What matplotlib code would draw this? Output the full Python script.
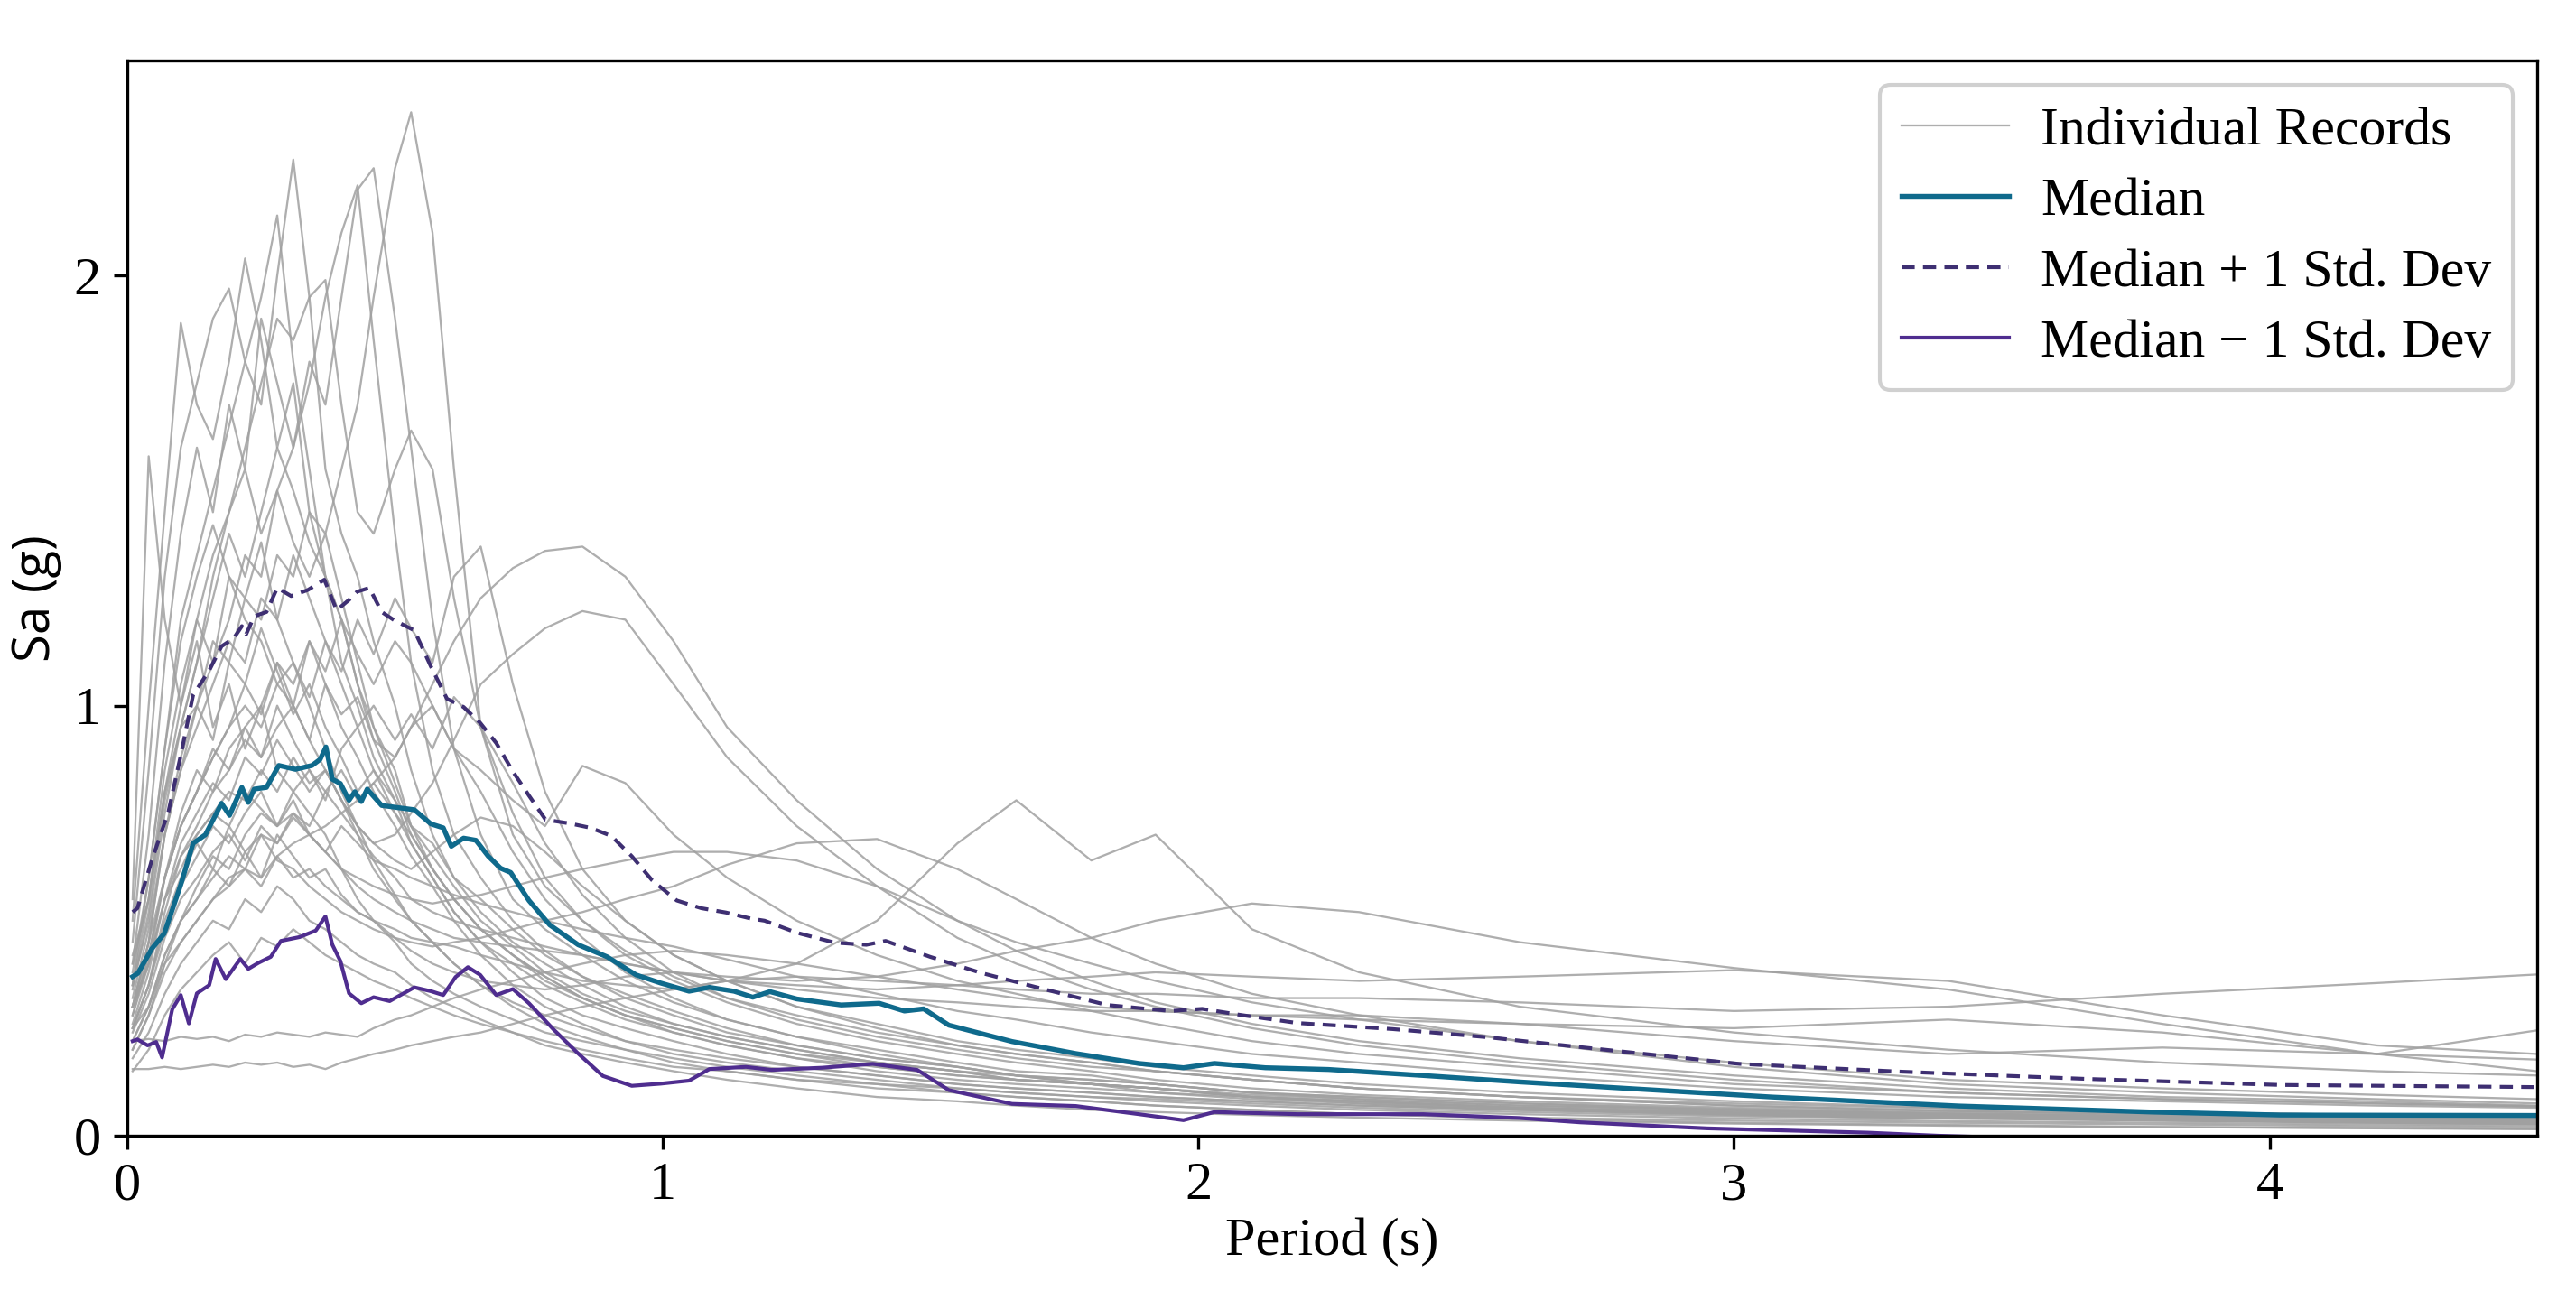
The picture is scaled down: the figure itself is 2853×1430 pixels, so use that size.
import numpy as np
import matplotlib
matplotlib.use("Agg")
import matplotlib.pyplot as plt

plt.rcParams['font.family'] = ['Liberation Serif', 'DejaVu Serif']

# period grid shared by the individual records (s)
periods = [0.01, 0.04, 0.07, 0.10, 0.13, 0.16, 0.19, 0.22, 0.25, 0.28,
           0.31, 0.34, 0.37, 0.40, 0.43, 0.46, 0.50, 0.53, 0.57, 0.61,
           0.66, 0.72, 0.78, 0.85, 0.93, 1.02, 1.12, 1.25, 1.40, 1.55,
           1.66, 1.80, 1.92, 2.1, 2.3, 2.6, 3.0, 3.4, 3.8, 4.2, 4.5]

# spectral accelerations (g) of the individual records
records = [
    [0.42, 0.55, 0.80, 0.95, 1.00, 1.15, 1.10, 1.25, 1.20, 1.35, 1.30, 1.45, 1.40, 1.55, 1.70, 1.95, 2.25, 2.38, 2.10, 1.55,
     0.95, 0.70, 0.58, 0.50, 0.42, 0.36, 0.31, 0.26, 0.22, 0.19, 0.17, 0.15, 0.13, 0.11, 0.095, 0.08, 0.065, 0.055, 0.048, 0.042, 0.038],
    [0.35, 0.60, 0.90, 1.20, 1.35, 1.50, 1.65, 1.80, 1.70, 2.00, 2.27, 1.95, 1.55, 1.40, 1.30, 1.15, 1.00, 0.85, 0.70, 0.60,
     0.52, 0.45, 0.40, 0.35, 0.30, 0.26, 0.23, 0.20, 0.17, 0.15, 0.14, 0.12, 0.11, 0.095, 0.085, 0.07, 0.06, 0.05, 0.045, 0.04, 0.035],
    [0.30, 0.45, 0.70, 0.85, 1.00, 1.10, 1.20, 1.35, 1.30, 1.50, 1.60, 1.80, 1.70, 1.95, 2.20, 2.25, 1.90, 1.60, 1.20, 0.90,
     0.70, 0.55, 0.48, 0.42, 0.36, 0.31, 0.27, 0.23, 0.20, 0.17, 0.15, 0.14, 0.12, 0.10, 0.09, 0.075, 0.062, 0.052, 0.045, 0.04, 0.036],
    [0.40, 0.70, 1.10, 1.40, 1.60, 1.45, 1.70, 1.55, 1.90, 1.75, 1.60, 1.75, 1.95, 2.10, 2.21, 1.85, 1.40, 1.10, 0.85, 0.70,
     0.60, 0.50, 0.43, 0.37, 0.32, 0.28, 0.24, 0.21, 0.18, 0.16, 0.14, 0.13, 0.12, 0.10, 0.085, 0.07, 0.058, 0.05, 0.043, 0.038, 0.034],
    [0.45, 0.85, 1.30, 1.60, 1.75, 1.90, 1.97, 1.80, 1.95, 2.14, 1.80, 1.55, 1.30, 1.20, 1.05, 0.95, 0.85, 0.72, 0.62, 0.55,
     0.48, 0.42, 0.37, 0.32, 0.28, 0.25, 0.22, 0.19, 0.16, 0.14, 0.13, 0.12, 0.11, 0.09, 0.08, 0.065, 0.055, 0.047, 0.041, 0.036, 0.033],
    [0.50, 1.00, 1.45, 1.89, 1.70, 1.62, 1.80, 2.04, 1.85, 1.60, 1.75, 1.45, 1.30, 1.10, 1.00, 0.88, 0.78, 0.68, 0.60, 0.52,
     0.45, 0.40, 0.35, 0.31, 0.27, 0.24, 0.21, 0.18, 0.16, 0.14, 0.13, 0.12, 0.10, 0.09, 0.075, 0.062, 0.052, 0.045, 0.039, 0.035, 0.032],
    [0.55, 1.58, 1.20, 1.00, 1.15, 0.95, 1.05, 0.90, 1.00, 0.85, 0.80, 0.75, 0.70, 0.62, 0.55, 0.50, 0.45, 0.40, 0.36, 0.33,
     0.30, 0.27, 0.24, 0.22, 0.20, 0.18, 0.16, 0.14, 0.12, 0.11, 0.10, 0.09, 0.085, 0.075, 0.065, 0.055, 0.045, 0.04, 0.035, 0.03, 0.028],
    [0.35, 0.50, 0.75, 0.95, 1.10, 1.30, 1.45, 1.60, 1.75, 1.90, 1.85, 1.95, 1.99, 1.70, 1.45, 1.40, 1.55, 1.64, 1.55, 1.25,
     0.95, 0.75, 0.60, 0.50, 0.43, 0.37, 0.32, 0.28, 0.24, 0.21, 0.19, 0.17, 0.15, 0.13, 0.11, 0.09, 0.075, 0.063, 0.055, 0.048, 0.043],
    [0.25, 0.30, 0.40, 0.45, 0.50, 0.55, 0.58, 0.62, 0.60, 0.65, 0.68, 0.70, 0.72, 0.75, 0.78, 0.82, 0.88, 0.95, 1.05, 1.15,
     1.25, 1.32, 1.36, 1.37, 1.30, 1.15, 0.95, 0.78, 0.62, 0.50, 0.43, 0.36, 0.31, 0.26, 0.22, 0.18, 0.14, 0.11, 0.09, 0.08, 0.07],
    [0.30, 0.40, 0.55, 0.65, 0.70, 0.75, 0.80, 0.78, 0.85, 0.80, 0.88, 0.82, 0.85, 0.78, 0.72, 0.68, 0.70, 0.75, 0.82, 0.92,
     1.05, 1.12, 1.18, 1.22, 1.20, 1.05, 0.88, 0.72, 0.58, 0.46, 0.40, 0.34, 0.30, 0.25, 0.21, 0.17, 0.13, 0.10, 0.085, 0.075, 0.068],
    [0.30, 0.45, 0.60, 0.72, 0.80, 0.88, 0.95, 1.05, 0.98, 1.10, 1.00, 1.15, 1.05, 0.98, 1.02, 0.92, 0.88, 0.95, 1.00, 0.90,
     0.85, 0.78, 0.72, 0.86, 0.82, 0.70, 0.60, 0.50, 0.42, 0.36, 0.33, 0.29, 0.26, 0.22, 0.19, 0.16, 0.12, 0.10, 0.085, 0.075, 0.068],
    [0.20, 0.28, 0.38, 0.45, 0.50, 0.55, 0.60, 0.62, 0.58, 0.65, 0.60, 0.62, 0.58, 0.55, 0.52, 0.50, 0.48, 0.46, 0.45, 0.44,
     0.42, 0.40, 0.38, 0.36, 0.35, 0.34, 0.36, 0.40, 0.50, 0.68, 0.78, 0.64, 0.70, 0.48, 0.38, 0.30, 0.24, 0.20, 0.17, 0.15, 0.14],
    [0.22, 0.30, 0.42, 0.50, 0.55, 0.62, 0.58, 0.66, 0.60, 0.70, 0.65, 0.60, 0.62, 0.56, 0.52, 0.50, 0.46, 0.43, 0.40, 0.38,
     0.36, 0.35, 0.34, 0.35, 0.37, 0.38, 0.37, 0.36, 0.37, 0.40, 0.43, 0.46, 0.50, 0.54, 0.52, 0.45, 0.39, 0.34, 0.26, 0.19, 0.15],
    [0.155, 0.155, 0.16, 0.155, 0.16, 0.165, 0.16, 0.17, 0.165, 0.17, 0.16, 0.165, 0.155, 0.17, 0.18, 0.19, 0.20, 0.21, 0.22, 0.23,
     0.24, 0.26, 0.28, 0.30, 0.32, 0.34, 0.36, 0.37, 0.36, 0.35, 0.34, 0.33, 0.33, 0.32, 0.32, 0.31, 0.29, 0.30, 0.33, 0.355, 0.375],
    [0.25, 0.35, 0.48, 0.58, 0.65, 0.72, 0.68, 0.75, 0.80, 0.72, 0.78, 0.70, 0.66, 0.62, 0.58, 0.55, 0.52, 0.50, 0.48, 0.46,
     0.45, 0.44, 0.43, 0.42, 0.40, 0.38, 0.36, 0.35, 0.34, 0.35, 0.36, 0.37, 0.38, 0.37, 0.36, 0.37, 0.385, 0.36, 0.28, 0.21, 0.19],
    [0.22, 0.225, 0.22, 0.23, 0.225, 0.23, 0.22, 0.235, 0.23, 0.24, 0.235, 0.23, 0.24, 0.235, 0.23, 0.25, 0.27, 0.28, 0.30, 0.32,
     0.34, 0.36, 0.38, 0.40, 0.42, 0.43, 0.42, 0.40, 0.37, 0.34, 0.32, 0.30, 0.29, 0.28, 0.27, 0.26, 0.25, 0.27, 0.24, 0.19, 0.245],
    [0.28, 0.42, 0.60, 0.75, 0.85, 0.80, 0.90, 0.95, 0.88, 1.00, 0.92, 0.85, 0.80, 0.75, 0.70, 0.65, 0.60, 0.55, 0.52, 0.50,
     0.48, 0.46, 0.44, 0.42, 0.40, 0.38, 0.36, 0.34, 0.32, 0.31, 0.30, 0.29, 0.29, 0.28, 0.28, 0.26, 0.22, 0.19, 0.205, 0.19, 0.177],
    [0.30, 0.40, 0.55, 0.62, 0.70, 0.75, 0.72, 0.80, 0.76, 0.72, 0.75, 0.70, 0.66, 0.62, 0.60, 0.58, 0.56, 0.55, 0.54, 0.55,
     0.56, 0.58, 0.60, 0.62, 0.64, 0.66, 0.66, 0.64, 0.58, 0.50, 0.45, 0.40, 0.36, 0.31, 0.27, 0.22, 0.17, 0.13, 0.11, 0.095, 0.085],
    [0.25, 0.35, 0.50, 0.60, 0.68, 0.62, 0.72, 0.66, 0.70, 0.64, 0.62, 0.58, 0.55, 0.52, 0.50, 0.48, 0.46, 0.45, 0.44, 0.45,
     0.46, 0.48, 0.50, 0.52, 0.55, 0.58, 0.63, 0.68, 0.69, 0.62, 0.55, 0.46, 0.40, 0.33, 0.28, 0.22, 0.16, 0.12, 0.10, 0.085, 0.075],
    [0.30, 0.45, 0.70, 0.85, 0.95, 1.05, 1.15, 1.10, 1.25, 1.20, 1.35, 1.25, 1.15, 1.05, 0.95, 0.85, 0.75, 0.68, 0.60, 0.52,
     0.45, 0.38, 0.32, 0.28, 0.25, 0.22, 0.19, 0.16, 0.14, 0.12, 0.11, 0.10, 0.09, 0.08, 0.07, 0.06, 0.05, 0.042, 0.036, 0.032, 0.03],
    [0.40, 0.55, 0.80, 1.00, 1.20, 1.35, 1.45, 1.55, 1.40, 1.50, 1.38, 1.30, 1.40, 1.25, 1.10, 0.95, 0.82, 0.72, 0.65, 0.58,
     0.50, 0.44, 0.38, 0.33, 0.29, 0.26, 0.23, 0.20, 0.17, 0.15, 0.13, 0.12, 0.11, 0.09, 0.08, 0.065, 0.055, 0.046, 0.04, 0.035, 0.032],
    [0.25, 0.35, 0.52, 0.65, 0.72, 0.80, 0.85, 0.92, 0.88, 0.95, 1.00, 0.92, 1.05, 0.95, 0.88, 0.80, 0.72, 0.65, 0.58, 0.50,
     0.42, 0.35, 0.30, 0.26, 0.22, 0.19, 0.17, 0.15, 0.13, 0.11, 0.10, 0.09, 0.08, 0.07, 0.06, 0.05, 0.04, 0.034, 0.03, 0.026, 0.024],
    [0.20, 0.28, 0.40, 0.50, 0.55, 0.60, 0.65, 0.62, 0.70, 0.68, 0.75, 0.72, 0.80, 0.85, 0.78, 0.82, 0.75, 0.70, 0.62, 0.55,
     0.48, 0.42, 0.37, 0.32, 0.28, 0.25, 0.22, 0.19, 0.17, 0.15, 0.13, 0.12, 0.11, 0.09, 0.08, 0.065, 0.05, 0.042, 0.036, 0.031, 0.028],
    [0.35, 0.55, 0.85, 1.05, 1.20, 1.10, 1.30, 1.20, 1.15, 1.05, 1.00, 0.92, 0.85, 0.78, 0.70, 0.62, 0.55, 0.50, 0.45, 0.40,
     0.35, 0.30, 0.26, 0.23, 0.20, 0.17, 0.15, 0.13, 0.11, 0.10, 0.09, 0.08, 0.07, 0.06, 0.05, 0.042, 0.035, 0.03, 0.026, 0.022, 0.02],
    [0.28, 0.40, 0.60, 0.72, 0.80, 0.90, 0.85, 0.95, 1.00, 1.10, 1.05, 1.15, 1.08, 1.20, 1.12, 1.05, 1.15, 1.10, 1.00, 0.90,
     0.80, 0.66, 0.55, 0.46, 0.38, 0.32, 0.27, 0.23, 0.19, 0.16, 0.14, 0.12, 0.11, 0.09, 0.08, 0.065, 0.052, 0.043, 0.037, 0.032, 0.029],
    [0.18, 0.24, 0.33, 0.40, 0.45, 0.50, 0.48, 0.55, 0.52, 0.58, 0.55, 0.50, 0.48, 0.45, 0.42, 0.40, 0.38, 0.35, 0.32, 0.30,
     0.27, 0.24, 0.21, 0.19, 0.17, 0.15, 0.13, 0.11, 0.09, 0.08, 0.07, 0.06, 0.055, 0.048, 0.042, 0.035, 0.028, 0.023, 0.02, 0.017, 0.015],
    [0.32, 0.48, 0.70, 0.88, 1.00, 0.92, 1.10, 1.05, 1.18, 1.08, 0.98, 1.05, 0.95, 0.88, 0.80, 0.85, 0.78, 0.72, 0.68, 0.60,
     0.55, 0.48, 0.42, 0.37, 0.33, 0.29, 0.25, 0.21, 0.18, 0.16, 0.14, 0.13, 0.12, 0.10, 0.09, 0.075, 0.06, 0.05, 0.044, 0.039, 0.035],
    [0.22, 0.30, 0.42, 0.50, 0.58, 0.65, 0.62, 0.70, 0.75, 0.72, 0.80, 0.85, 0.78, 0.90, 0.95, 1.00, 0.92, 0.98, 0.90, 1.02,
     0.95, 0.82, 0.68, 0.56, 0.46, 0.38, 0.32, 0.27, 0.23, 0.20, 0.18, 0.16, 0.15, 0.13, 0.11, 0.09, 0.07, 0.058, 0.05, 0.044, 0.04],
    [0.26, 0.38, 0.55, 0.68, 0.75, 0.82, 0.78, 0.88, 0.84, 0.92, 0.86, 0.80, 0.85, 0.78, 0.72, 0.68, 0.64, 0.62, 0.66, 0.70,
     0.74, 0.72, 0.66, 0.58, 0.50, 0.42, 0.36, 0.30, 0.26, 0.22, 0.20, 0.18, 0.16, 0.14, 0.12, 0.10, 0.08, 0.065, 0.055, 0.048, 0.043],
    [0.38, 0.60, 0.90, 1.15, 1.30, 1.42, 1.30, 1.25, 1.38, 1.20, 1.10, 1.00, 0.90, 0.80, 0.72, 0.64, 0.56, 0.50, 0.45, 0.40,
     0.35, 0.31, 0.28, 0.25, 0.22, 0.20, 0.18, 0.16, 0.14, 0.12, 0.11, 0.10, 0.09, 0.08, 0.07, 0.06, 0.048, 0.04, 0.035, 0.03, 0.027],
    [0.30, 0.42, 0.60, 0.72, 0.80, 0.88, 0.95, 1.00, 0.95, 1.05, 1.10, 1.02, 1.15, 1.08, 1.20, 1.12, 1.25, 1.18, 1.10, 1.30,
     1.37, 1.05, 0.80, 0.62, 0.50, 0.42, 0.36, 0.30, 0.25, 0.21, 0.19, 0.17, 0.15, 0.13, 0.11, 0.09, 0.07, 0.058, 0.05, 0.044, 0.04],
    [0.15, 0.20, 0.28, 0.34, 0.38, 0.42, 0.45, 0.40, 0.46, 0.44, 0.48, 0.45, 0.42, 0.40, 0.38, 0.36, 0.34, 0.32, 0.30, 0.28,
     0.26, 0.24, 0.22, 0.20, 0.18, 0.16, 0.15, 0.13, 0.12, 0.10, 0.09, 0.08, 0.07, 0.06, 0.05, 0.04, 0.03, 0.025, 0.02, 0.018, 0.016],
    [0.34, 0.52, 0.78, 0.95, 1.10, 1.25, 1.40, 1.30, 1.45, 1.60, 1.50, 1.38, 1.30, 1.20, 1.05, 0.92, 0.80, 0.70, 0.62, 0.55,
     0.48, 0.42, 0.36, 0.32, 0.28, 0.24, 0.21, 0.18, 0.15, 0.13, 0.12, 0.11, 0.10, 0.085, 0.075, 0.06, 0.05, 0.042, 0.036, 0.032, 0.029],
    [0.24, 0.33, 0.46, 0.55, 0.60, 0.66, 0.70, 0.64, 0.72, 0.68, 0.74, 0.70, 0.66, 0.72, 0.68, 0.64, 0.62, 0.60, 0.58, 0.56,
     0.54, 0.52, 0.50, 0.48, 0.46, 0.44, 0.41, 0.37, 0.33, 0.29, 0.27, 0.24, 0.22, 0.19, 0.17, 0.14, 0.11, 0.09, 0.08, 0.07, 0.065],
]

# median spectrum
med_T = [0.01, 0.02, 0.046, 0.069, 0.10, 0.123, 0.146, 0.176, 0.191, 0.214,
         0.226, 0.237, 0.26, 0.283, 0.314, 0.345, 0.36, 0.371, 0.383, 0.398,
         0.414, 0.425, 0.437, 0.448, 0.475, 0.505, 0.536, 0.567, 0.59, 0.605,
         0.628, 0.651, 0.674, 0.697, 0.716, 0.75, 0.789, 0.842, 0.896, 0.95,
         0.996, 1.049, 1.087, 1.133, 1.168, 1.20, 1.25, 1.333, 1.404, 1.451,
         1.487, 1.534, 1.652, 1.771, 1.889, 1.972, 2.03, 2.125, 2.243, 2.42,
         2.6, 2.8, 3.07, 3.42, 3.78, 4.02, 4.5]
med_Sa = [0.37, 0.378, 0.435, 0.47, 0.584, 0.68, 0.70, 0.773, 0.745, 0.81,
          0.775, 0.806, 0.81, 0.861, 0.852, 0.861, 0.875, 0.904, 0.829, 0.819,
          0.78, 0.80, 0.777, 0.806, 0.768, 0.763, 0.758, 0.725, 0.716, 0.673,
          0.692, 0.687, 0.65, 0.622, 0.612, 0.547, 0.49, 0.444, 0.416, 0.374,
          0.355, 0.336, 0.345, 0.336, 0.322, 0.335, 0.318, 0.304, 0.308, 0.29,
          0.295, 0.257, 0.219, 0.191, 0.168, 0.158, 0.168, 0.158, 0.154, 0.14,
          0.125, 0.11, 0.09, 0.069, 0.055, 0.048, 0.047]

# median + 1 std
plus_T = [0.01, 0.019, 0.046, 0.077, 0.10, 0.123, 0.153, 0.176, 0.199, 0.214,
          0.222, 0.237, 0.26, 0.28, 0.306, 0.337, 0.368, 0.391, 0.414, 0.429,
          0.452, 0.475, 0.498, 0.536, 0.567, 0.597, 0.628, 0.659, 0.689, 0.72,
          0.75, 0.781, 0.827, 0.865, 0.904, 0.942, 0.98, 1.026, 1.072, 1.118,
          1.164, 1.19, 1.25, 1.321, 1.38, 1.416, 1.499, 1.593, 1.711, 1.829,
          1.948, 2.007, 2.078, 2.185, 2.362, 2.54, 2.713, 3.01, 3.31, 3.66,
          4.02, 4.5]
plus_Sa = [0.52, 0.529, 0.641, 0.754, 0.885, 1.025, 1.082, 1.138, 1.157, 1.185,
           1.166, 1.208, 1.218, 1.274, 1.255, 1.269, 1.293, 1.222, 1.246, 1.265,
           1.274, 1.218, 1.199, 1.175, 1.091, 1.016, 0.997, 0.96, 0.913, 0.847,
           0.791, 0.735, 0.726, 0.716, 0.697, 0.65, 0.594, 0.547, 0.529, 0.519,
           0.505, 0.50, 0.472, 0.449, 0.444, 0.453, 0.416, 0.379, 0.341, 0.304,
           0.29, 0.295, 0.281, 0.262, 0.248, 0.229, 0.206, 0.167, 0.149, 0.132,
           0.118, 0.113]

# median - 1 std
minus_T = [0.01, 0.019, 0.038, 0.054, 0.065, 0.084, 0.10, 0.115, 0.13, 0.153,
           0.165, 0.184, 0.211, 0.226, 0.245, 0.268, 0.287, 0.322, 0.352, 0.37,
           0.383, 0.398, 0.414, 0.437, 0.46, 0.49, 0.536, 0.567, 0.59, 0.613,
           0.636, 0.659, 0.689, 0.72, 0.75, 0.796, 0.842, 0.888, 0.942, 0.996,
           1.049, 1.087, 1.155, 1.203, 1.297, 1.392, 1.475, 1.534, 1.652, 1.771,
           1.889, 1.972, 2.03, 2.185, 2.42, 2.6, 2.713, 2.95, 3.25, 3.38,
           3.6, 4.0, 4.5]
minus_Sa = [0.22, 0.224, 0.21, 0.218, 0.182, 0.294, 0.327, 0.261, 0.331, 0.35,
            0.411, 0.364, 0.411, 0.388, 0.402, 0.416, 0.453, 0.462, 0.477, 0.51,
            0.444, 0.406, 0.331, 0.308, 0.322, 0.313, 0.345, 0.336, 0.327, 0.369,
            0.392, 0.374, 0.327, 0.341, 0.308, 0.247, 0.191, 0.139, 0.116, 0.121,
            0.128, 0.155, 0.16, 0.153, 0.158, 0.167, 0.153, 0.106, 0.074, 0.069,
            0.05, 0.036, 0.055, 0.05, 0.05, 0.041, 0.031, 0.017, 0.007, 0.0,
            -0.008, -0.02, -0.03]

fig = plt.figure(figsize=(2853 / 300, 1430 / 300), dpi=300)
ax = fig.add_axes([0.0494, 0.1203, 0.9356, 0.8327])

for i, rec in enumerate(records):
    ax.plot(periods, rec, color='#a0a0a0', lw=0.55, alpha=0.85,
            label='Individual Records' if i == 0 else None)

ax.plot(med_T, med_Sa, color='#0f6a8c', lw=1.3, label='Median')
ax.plot(plus_T, plus_Sa, color='#3e2f72', lw=1.0, ls=(0, (3.5, 2.2)),
        label='Median + 1 Std. Dev')
ax.plot(minus_T, minus_Sa, color='#4f2d8f', lw=1.0, label='Median \u2212 1 Std. Dev')

ax.set_xlim(0, 4.5)
ax.set_ylim(0, 2.5)
ax.set_xticks([0, 1, 2, 3, 4])
ax.set_yticks([0, 1, 2])
ax.tick_params(labelsize=14.5, length=3.5, width=0.8)
for s in ax.spines.values():
    s.set_linewidth(0.8)

ax.set_xlabel('Period (s)', fontsize=14.5, labelpad=2)
ax.set_ylabel('Sa (g)', fontsize=13.5, family=['Open Sans', 'DejaVu Sans'], labelpad=3)

leg = ax.legend(loc='upper right', fontsize=14.3, frameon=True, fancybox=True,
                edgecolor='#d0d0d0', framealpha=1.0, labelspacing=0.4,
                handlelength=2.0, handletextpad=0.6, borderpad=0.4,
                borderaxespad=0.45)

fig.savefig('out.png', dpi=300)
